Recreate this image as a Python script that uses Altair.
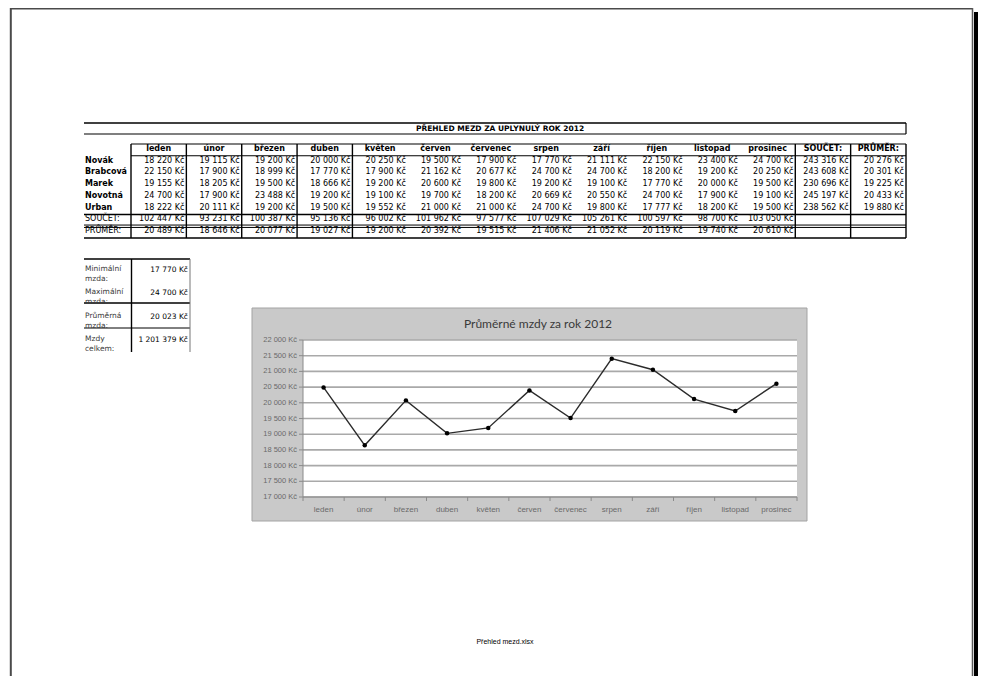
import altair as alt
import pandas as pd

# ---------------- data ----------------
months = ["leden", "únor", "březen", "duben", "květen", "červen", "červenec",
          "srpen", "září", "říjen", "listopad", "prosinec"]
people = ["Novák", "Brabcová", "Marek", "Novotná", "Urban"]
novak = [18220, 19115, 19200, 20000, 20250, 19500, 17900, 17770, 21111, 22150, 23400, 24700]
brabcova = [22150, 17900, 18999, 17770, 17900, 21162, 20677, 24700, 24700, 18200, 19200, 20250]
marek = [19155, 18205, 19500, 18666, 19200, 20600, 19800, 19200, 19100, 17770, 20000, 19500]
novotna = [24700, 17900, 23488, 19200, 19100, 19700, 18200, 20669, 20550, 24700, 17900, 19100]
urban = [18222, 20111, 19200, 19500, 19552, 21000, 21000, 24700, 19800, 17777, 18200, 19500]
person_totals = [243316, 243608, 230696, 245197, 238562]
person_avgs = [20276, 20301, 19225, 20433, 19880]
month_totals = [102447, 93231, 100387, 95136, 96002, 101962, 97577, 107029, 105261, 100597, 98700, 103050]
month_avgs = [20489, 18646, 20077, 19027, 19200, 20392, 19515, 21406, 21052, 20119, 19740, 20610]
sum_label = "SOUČET:"
avg_label = "PRŮMĚR:"
summary_labels = ["Minimální\nmzda:", "Maximální\nmzda:", "Průměrná\nmzda:", "Mzdy\ncelkem:"]
summary_values = [17770, 24700, 20023, 1201379]
y_ticks = [17000, 17500, 18000, 18500, 19000, 19500, 20000, 20500, 21000, 21500, 22000]
table_title = "PŘEHLED MEZD ZA UPLYNULÝ ROK 2012"
chart_title = "Průměrné mzdy za rok 2012"
footer_text = "Přehled mezd.xlsx"


def kc(v):
    return f"{v:,}".replace(",", " ") + " Kč"


# ---------------- tables built from the arrays ----------------
person_rows = [novak, brabcova, marek, novotna, urban]
cols = months + [sum_label, avg_label]
rows = ["hdr"] + people + [sum_label, avg_label]

cells = []
for name, vals, tot, avg in zip(people, person_rows, person_totals, person_avgs):
    for m, v in zip(months, vals):
        cells.append({"row": name, "col": m, "txt": kc(v)})
    cells.append({"row": name, "col": sum_label, "txt": kc(tot)})
    cells.append({"row": name, "col": avg_label, "txt": kc(avg)})
for m, v in zip(months, month_totals):
    cells.append({"row": sum_label, "col": m, "txt": kc(v)})
for m, v in zip(months, month_avgs):
    cells.append({"row": avg_label, "col": m, "txt": kc(v)})
cells_df = pd.DataFrame(cells)
header_df = pd.DataFrame({"col": cols, "row": ["hdr"] * len(cols)})
people_df = pd.DataFrame({"row": people})
totrow_df = pd.DataFrame({"row": [sum_label, avg_label]})
summary_df = pd.DataFrame({"lab": summary_labels, "txt": [kc(v) for v in summary_values]})
avg_df = pd.DataFrame({"month": months, "avg": month_avgs})
yt_df = pd.DataFrame({"v": y_ticks, "lab": [kc(v) for v in y_ticks]})
one = pd.DataFrame({"k": [0]})

# ---------------- layout (canvas pixels) ----------------
W, H = 970, 668
TX0, TX1 = 123, 898          # value columns of main table
TY0, TY1 = 136, 230          # rows of main table
NAME_X = 77
SX0, SXM, SX1 = 76, 123.5, 182
SY0, SY1 = 251, 344
CX0, CX1, CY0, CY1 = 244, 799, 300, 513   # chart area
PX0, PX1, PY0, PY1 = 295, 789, 332, 489   # plot area
TEXT_FONT = "DejaVu Sans"


def hline(y, x1, x2, color="black", w=1.0):
    return alt.Chart(one).mark_rule(color=color, strokeWidth=w).encode(
        x=alt.value(x1), x2=alt.value(x2), y=alt.value(y))


def vline(x, y1, y2, color="black", w=1.0):
    return alt.Chart(one).mark_rule(color=color, strokeWidth=w).encode(
        x=alt.value(x), y=alt.value(y1), y2=alt.value(y2))


def box(x1, x2, y1, y2, fill, stroke=None, w=1.0):
    kw = dict(fill=fill)
    if stroke:
        kw.update(stroke=stroke, strokeWidth=w)
    return alt.Chart(one).mark_rect(**kw).encode(
        x=alt.value(x1), x2=alt.value(x2), y=alt.value(y1), y2=alt.value(y2))


col_scale = alt.Scale(type="band", domain=cols, range=[TX0, TX1], paddingInner=0, paddingOuter=0)
row_scale = alt.Scale(type="band", domain=rows, range=[TY0, TY1], paddingInner=0, paddingOuter=0)
sum_scale = alt.Scale(type="band", domain=summary_labels, range=[SY0, SY1], paddingInner=0, paddingOuter=0)
mx_point = alt.Scale(type="point", domain=months, range=[PX0, PX1], padding=0.5)
mx_band = alt.Scale(type="band", domain=months, range=[PX0, PX1], paddingInner=0, paddingOuter=0)
y_scale = alt.Scale(domain=[17000, 22000], range=[PY1, PY0], nice=False, zero=False)

layers = []

# page frame
layers += [
    vline(2.8, 0, H, "#4a4a4a", 2),
    hline(0.8, 2, 965, "#4a4a4a", 1.6),
    vline(964.5, 0, H, "#5a5a5a", 1.5),
    box(966, 970, 4, H, "black"),
]

# table title box
layers += [
    hline(115, 76, 898, "black", 1.6),
    hline(126, 76, 898, "black", 1.2),
    vline(898, 115, 126, "black", 1.2),
    alt.Chart(one).mark_text(font=TEXT_FONT, fontSize=7.5, fontWeight="bold", color="black",
                             baseline="middle", align="center", dy=-0.5, text=table_title).encode(
        x=alt.value(492), y=alt.value(121)),
]

# main table grid
step = (TY1 - TY0) / len(rows)
layers += [
    hline(TY0, TX0, TX1, "black", 1.2),
    hline(TY0 + step, TX0, TX1, "black", 1.2),
    hline(TY0 + 6 * step, 76, TX1, "black", 1.6),
    hline(TY0 + 7 * step - 1.2, 76, TX1, "black", 1.0),
    hline(TY0 + 7 * step + 1.2, 76, TX1, "black", 1.0),
    hline(TY1, 76, TX1, "black", 1.4),
]
border_cols = pd.DataFrame({"col": ["leden", "únor", "březen", "duben", "květen", sum_label, avg_label]})
layers.append(
    alt.Chart(border_cols).mark_rule(color="black", strokeWidth=1.4).encode(
        x=alt.X("col:N", scale=col_scale, axis=None, bandPosition=0),
        y=alt.value(TY0), y2=alt.value(TY1))
)
layers.append(vline(TX1, TY0, TY1, "black", 1.4))

# header texts
layers.append(
    alt.Chart(header_df).mark_text(font=TEXT_FONT, fontSize=8, fontWeight="bold", color="black",
                                   baseline="middle", align="center", dy=-1).encode(
        x=alt.X("col:N", scale=col_scale, axis=None, bandPosition=0.5),
        y=alt.Y("row:N", scale=row_scale, axis=None, bandPosition=0.5),
        text="col:N")
)
# value texts
layers.append(
    alt.Chart(cells_df).mark_text(font=TEXT_FONT, fontSize=8, color="black",
                                  baseline="middle", align="right", dx=-2, dy=-1).encode(
        x=alt.X("col:N", scale=col_scale, axis=None, bandPosition=1),
        y=alt.Y("row:N", scale=row_scale, axis=None, bandPosition=0.5),
        text="txt:N")
)
# row labels
layers.append(
    alt.Chart(people_df).mark_text(font=TEXT_FONT, fontSize=8, fontWeight="bold", color="black",
                                   baseline="middle", align="left", dy=-1).encode(
        x=alt.value(NAME_X),
        y=alt.Y("row:N", scale=row_scale, axis=None, bandPosition=0.5),
        text="row:N")
)
layers.append(
    alt.Chart(totrow_df).mark_text(font=TEXT_FONT, fontSize=8, color="black",
                                   baseline="middle", align="left", dy=-1).encode(
        x=alt.value(NAME_X),
        y=alt.Y("row:N", scale=row_scale, axis=None, bandPosition=0.5),
        text="row:N")
)

# summary table
layers += [
    hline(SY0, SX0, SX1, "black", 1.4),
    hline(295, SX0, SX1, "black", 1.4),
    hline(320, SX0, SX1, "black", 1.0),
    vline(SXM, SY0, SY1, "black", 1.4),
    vline(SX1, SY0, SY1, "#777777", 1.0),
]
layers.append(
    alt.Chart(summary_df).mark_text(font=TEXT_FONT, fontSize=7.5, color="#3a3a3a", lineBreak="\n",
                                    lineHeight=10, baseline="middle", align="left", dy=-1.5).encode(
        x=alt.value(NAME_X),
        y=alt.Y("lab:N", scale=sum_scale, axis=None, bandPosition=0.5),
        text="lab:N")
)
layers.append(
    alt.Chart(summary_df).mark_text(font=TEXT_FONT, fontSize=7.5, color="black",
                                    baseline="middle", align="right", dy=-0.5).encode(
        x=alt.value(SX1 - 2),
        y=alt.Y("lab:N", scale=sum_scale, axis=None, bandPosition=0.5),
        text="txt:N")
)

# chart
layers += [
    box(CX0, CX1, CY0, CY1, "#c9c9c9", "#a3a3a3", 1.0),
    box(PX0, PX1, PY0, PY1, "white"),
    alt.Chart(one).mark_text(font="Lato", fontSize=12, color="#3a3a3a", baseline="middle",
                             align="center", text=chart_title).encode(
        x=alt.value(530), y=alt.value(316)),
]
layers.append(
    alt.Chart(yt_df).mark_rule(color="#a9a9a9", strokeWidth=1.6).encode(
        y=alt.Y("v:Q", scale=y_scale, axis=None), x=alt.value(PX0), x2=alt.value(PX1))
)
layers.append(
    alt.Chart(yt_df).mark_rule(color="#8a8a8a", strokeWidth=1).encode(
        y=alt.Y("v:Q", scale=y_scale, axis=None), x=alt.value(PX0 - 4), x2=alt.value(PX0))
)
layers.append(
    alt.Chart(yt_df).mark_text(font="Liberation Sans", fontSize=7.5, color="#6a6a6a",
                               baseline="middle", align="right").encode(
        y=alt.Y("v:Q", scale=y_scale, axis=None), x=alt.value(PX0 - 6), text="lab:N")
)
layers += [
    vline(PX0, PY0, PY1, "#8a8a8a", 1),
    hline(PY1, PX0, PX1, "#8a8a8a", 1.2),
    vline(PX1, PY1, PY1 + 4, "#8a8a8a", 1),
]
layers.append(
    alt.Chart(avg_df).mark_rule(color="#8a8a8a", strokeWidth=1).encode(
        x=alt.X("month:N", scale=mx_band, axis=None, bandPosition=0),
        y=alt.value(PY1), y2=alt.value(PY1 + 4))
)
layers.append(
    alt.Chart(avg_df).mark_text(font="Liberation Sans", fontSize=8, color="#6a6a6a",
                                baseline="middle", align="center").encode(
        x=alt.X("month:N", scale=mx_point, axis=None),
        y=alt.value(PY1 + 13), text="month:N")
)
layers.append(
    alt.Chart(avg_df).mark_line(color="#2b2b2b", strokeWidth=1.4).encode(
        x=alt.X("month:N", scale=mx_point, axis=None, sort=months),
        y=alt.Y("avg:Q", scale=y_scale, axis=None))
)
layers.append(
    alt.Chart(avg_df).mark_point(filled=True, shape="circle", size=20, color="black", opacity=1).encode(
        x=alt.X("month:N", scale=mx_point, axis=None),
        y=alt.Y("avg:Q", scale=y_scale, axis=None))
)

# footer
layers.append(
    alt.Chart(one).mark_text(font="Liberation Sans", fontSize=7, color="black", baseline="middle",
                             align="center", text=footer_text).encode(
        x=alt.value(497), y=alt.value(634))
)

chart = alt.layer(*layers).resolve_scale(x="independent", y="independent").properties(
    width=W, height=H, autosize="none", padding=0
).configure_view(stroke=None)

chart.save("out.html", embed_options={"renderer": "svg", "actions": False})
